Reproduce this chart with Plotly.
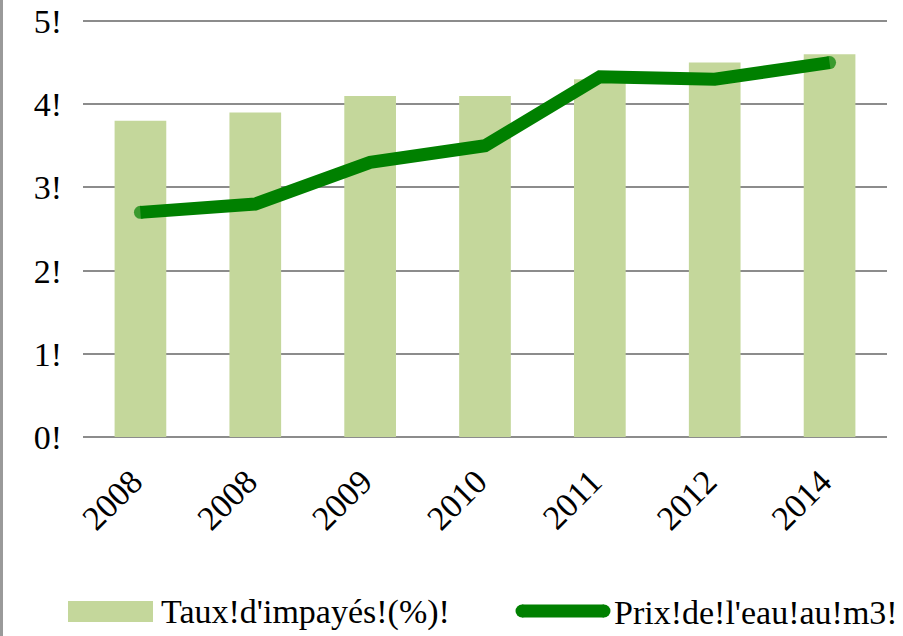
import plotly.graph_objects as go

categories = ["2008", "2008", "2009", "2010", "2011", "2012", "2014"]
taux_impayes = [3.8, 3.9, 4.1, 4.1, 4.3, 4.5, 4.6]
prix_eau = [2.7, 2.8, 3.3, 3.5, 4.33, 4.3, 4.5]
y_ticks = [0, 1, 2, 3, 4, 5]
y_ticktext = ["0!", "1!", "2!", "3!", "4!", "5!"]
legend_bar = "Taux!d'impayés!(%)!"
legend_line = "Prix!de!l'eau!au!m3!"

W, H = 903, 636
L, R, T, B = 83, 16, 18, 196
pw, ph = W - L - R, H - T - B
Y0PIX, PXPERUNIT = 437, 83.2
yr = [(Y0PIX - (H - B)) / PXPERUNIT, (Y0PIX - T) / PXPERUNIT]

def px(x):
    return (x - L) / pw

def py(y):
    return (H - B - y) / ph

BAR_COLOR = "#c4d79b"
LINE_COLOR = "#008000"
FONT = "'Liberation Serif', 'Times New Roman', 'DejaVu Serif', serif"
LW = 13

xpos = list(range(len(categories)))
end_sizes = [LW if i in (0, len(xpos) - 1) else 0 for i in xpos]

fig = go.Figure()
fig.add_trace(go.Bar(
    x=xpos, y=taux_impayes, name=legend_bar,
    marker=dict(color=BAR_COLOR, line=dict(width=0)),
    width=0.45, showlegend=False, hoverinfo="skip",
))
fig.add_trace(go.Scatter(
    x=xpos, y=prix_eau, name=legend_line, mode="lines+markers",
    line=dict(color=LINE_COLOR, width=LW),
    marker=dict(color=LINE_COLOR, size=end_sizes, line=dict(width=0)),
    showlegend=False, hoverinfo="skip",
))

lx0, lx1, ly = 522, 604, 611
rx, ry = (LW / 2) / pw, (LW / 2) / ph
shapes = [
    dict(type="line", xref="paper", yref="paper",
         x0=px(1.5), x1=px(1.5), y0=py(0), y1=py(H),
         line=dict(color="#9a9a9a", width=3)),
    dict(type="rect", xref="paper", yref="paper",
         x0=px(68), x1=px(153), y0=py(622), y1=py(601),
         fillcolor=BAR_COLOR, line=dict(width=0)),
    dict(type="line", xref="paper", yref="paper",
         x0=px(lx0), x1=px(lx1), y0=py(ly), y1=py(ly),
         line=dict(color=LINE_COLOR, width=LW)),
    dict(type="circle", xref="paper", yref="paper",
         x0=px(lx0) - rx, x1=px(lx0) + rx, y0=py(ly) - ry, y1=py(ly) + ry,
         fillcolor=LINE_COLOR, line=dict(width=0)),
    dict(type="circle", xref="paper", yref="paper",
         x0=px(lx1) - rx, x1=px(lx1) + rx, y0=py(ly) - ry, y1=py(ly) + ry,
         fillcolor=LINE_COLOR, line=dict(width=0)),
]

annotations = [
    dict(text=legend_bar, xref="paper", yref="paper",
         x=px(159), y=py(612), xanchor="left", yanchor="middle",
         showarrow=False, font=dict(family=FONT, size=34, color="black")),
    dict(text=legend_line, xref="paper", yref="paper",
         x=px(612), y=py(612), xanchor="left", yanchor="middle",
         showarrow=False, font=dict(family=FONT, size=34, color="black")),
]

fig.update_layout(
    width=W, height=H,
    margin=dict(l=L, r=R, t=T, b=B, pad=0, autoexpand=False),
    paper_bgcolor="white", plot_bgcolor="white",
    font=dict(family=FONT, size=34, color="black"),
    shapes=shapes, annotations=annotations,
    showlegend=False,
)
fig.update_xaxes(
    range=[-0.5, len(categories) - 0.5],
    tickvals=xpos, ticktext=categories, tickangle=-45,
    tickfont=dict(family=FONT, size=34, color="black"),
    showgrid=False, zeroline=False, showline=False, ticks="",
    ticklabelstandoff=14, ticklabelshift=-8, automargin=False,
)
fig.update_yaxes(
    range=yr, tickvals=y_ticks, ticktext=y_ticktext,
    tickfont=dict(family=FONT, size=34, color="black"),
    showgrid=True, gridcolor="#8c8c8c", gridwidth=2,
    zeroline=False, showline=False, ticks="",
    ticklabelstandoff=20, automargin=False,
)

fig.write_html(
    "out.html",
    config={"displayModeBar": False, "staticPlot": True},
    post_script="document.body.style.margin='0';document.body.style.overflow='hidden';",
)
